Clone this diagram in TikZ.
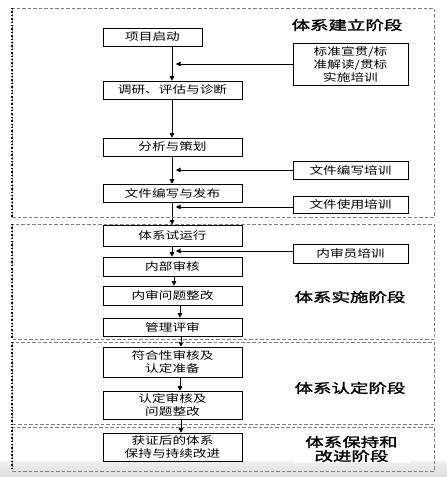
\documentclass[tikz,border=0pt]{standalone}
\usepackage{fontspec}
\usetikzlibrary{arrows.meta}
\newfontfamily\cjk[FakeStretch=1.3]{Noto Sans CJK SC}
\newfontfamily\cjkb[FakeStretch=1.42,FakeBold=1.8]{Noto Sans CJK SC}
\tikzset{
  stepbox/.style={draw, line width=0.6pt, minimum height=18pt, inner sep=0pt,
    font=\cjk\fontsize{10.5}{13}\selectfont, align=center},
  mainbox/.style={stepbox, minimum width=139pt},
  trainbox/.style={stepbox, minimum width=115pt},
  phase/.style={font=\cjkb\fontsize{13}{14}\selectfont, align=center, inner sep=0pt},
  arr/.style={-{Triangle[length=4.5pt,width=4.5pt]}, line width=0.6pt},
  frame/.style={dashed, dash pattern=on 3.5pt off 2pt, draw=gray, line width=0.6pt},
  leftedge/.style={dotted, line width=1.4pt, black},
}
\begin{document}
\begin{tikzpicture}[x=1pt,y=-1pt]
\useasboundingbox (0,0) rectangle (447,477);
\fill[white] (0,0) rectangle (447,477);
% bottom shadow bar
\shade[top color=gray!12, bottom color=gray!28] (0,461) rectangle (447,477);

\coordinate (m) at (172,0);

% main steps
\node[stepbox, minimum width=99pt] (n1) at (152.5,37) {项目启动};
\node[mainbox] (n2) at (172.5,90) {调研、评估与诊断};
\node[mainbox] (n3) at (172.5,147) {分析与策划};
\node[mainbox] (n4) at (172.5,193) {文件编写与发布};
\node[mainbox, minimum height=21pt] (n5) at (172.5,235.5) {体系试运行};
\node[mainbox, minimum height=19pt] (n6) at (172.5,266.5) {内部审核};
\node[mainbox, minimum height=19pt] (n7) at (172.5,295.5) {内审问题整改};
\node[mainbox] (n8) at (172.5,327) {管理评审};
\node[mainbox, minimum height=30pt] (n9) at (172.5,362) {符合性审核及\\认定准备};
\node[mainbox, minimum height=28pt] (n10) at (172.5,405) {认定审核及\\问题整改};
\node[mainbox, minimum height=28pt] (n11) at (172.5,447) {获证后的体系\\保持与持续改进};

% training boxes
\node[trainbox, minimum height=42pt] (t1) at (350.5,64) {标准宣贯/标\\准解读/贯标\\实施培训};
\node[trainbox] (t2) at (350.5,170) {文件编写培训};
\node[trainbox, minimum height=17pt] (t3) at (350.5,204.5) {文件使用培训};
\node[trainbox, minimum height=19pt] (t4) at (350.5,253.5) {内审员培训};

% phase labels
\node[phase] (p1) at (347,25) {体系建立阶段};
\node[phase] (p2) at (350,297) {体系实施阶段};
\node[phase] (p3) at (350,388) {体系认定阶段};
\node[phase, fill=white, minimum width=117pt, minimum height=27pt, inner sep=0pt] (p4) at (351.5,449) {体系保持和\\改进阶段};

% main flow
\draw[arr] (n1.south -| m) -- (n2.north -| m);
\draw[arr] (n2.south -| m) -- (n3.north -| m);
\draw[arr] (n3.south -| m) -- (n4.north -| m);
\draw[arr] (n4.south -| m) -- (n5.north -| m);
\draw[arr] (n5.south -| m) -- (n6.north -| m);
\draw[arr] ([xshift=1.5pt]n6.south) -- ([xshift=1.5pt]n7.north);
\draw[arr] ([xshift=7.5pt]n7.south) -- ([xshift=7.5pt]n8.north);
\draw[arr] ([xshift=8.5pt]n8.south) -- ([xshift=8.5pt]n9.north);
\draw[arr] ([xshift=7.5pt]n9.south) -- ([xshift=7.5pt]n10.north);
\draw[arr] ([xshift=8.5pt]n10.south) -- ([xshift=8.5pt]n11.north);

% training inputs
\draw[arr] (t1.west) -- ([xshift=4pt]t1.west -| m);
\draw[arr] (t2.west) -- ([xshift=4pt]t2.west -| m);
\draw[arr] ([yshift=-2.5pt]t3.west) -- ([xshift=4pt,yshift=-2.5pt]t3.west -| m);
\draw[arr] ([yshift=2.5pt]t4.west) -- ([xshift=4pt,yshift=2.5pt]t4.west -| m);

% phase frames
\draw[frame] (12,8) rectangle (434,217);
\draw[frame] (12,224) rectangle (434,339);
\draw[frame] (12,342) rectangle (434,424);
\draw[frame] (12,427) rectangle (434,471);
\draw[leftedge] (12,8) -- (12,217);
\draw[leftedge] (12,224) -- (12,339);
\draw[leftedge] (12,342) -- (12,424);
\draw[leftedge] (12,427) -- (12,471);
\end{tikzpicture}
\end{document}
